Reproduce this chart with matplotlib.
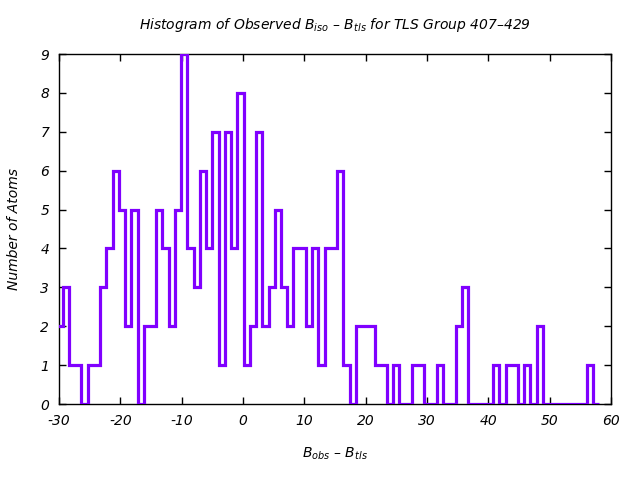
import matplotlib
matplotlib.use("Agg")
import matplotlib.pyplot as plt
import numpy as np

# Histogram data (counts per bin)
bin_start = -30.42
bin_width = 1.017
counts = [2, 3, 1, 1, 0, 1, 1, 3, 4, 6,
          5, 2, 5, 0, 2, 2, 5, 4, 2, 5,
          9, 4, 3, 6, 4, 7, 1, 7, 4, 8,
          1, 2, 7, 2, 3, 5, 3, 2, 4, 4,
          2, 4, 1, 4, 4, 6, 1, 0, 2, 2,
          2, 1, 1, 0, 1, 0, 0, 1, 1, 0,
          0, 1, 0, 0, 2, 3, 0, 0, 0, 0,
          1, 0, 1, 1, 0, 1, 0, 2, 0, 0,
          0, 0, 0, 0, 0, 1, 0]
x_ticks = [-30, -20, -10, 0, 10, 20, 30, 40, 50, 60]
y_ticks = [0, 1, 2, 3, 4, 5, 6, 7, 8, 9]

plt.rcParams['font.family'] = ['DejaVu Sans']
plt.rcParams['mathtext.fontset'] = 'dejavusans'
plt.rcParams['mathtext.default'] = 'it'
plt.rcParams['axes.unicode_minus'] = False

fig = plt.figure(figsize=(6.4, 4.8), dpi=100)
ax = fig.add_axes([59/640, 76/480, 552/640, 350/480])

edges = bin_start + bin_width * np.arange(len(counts) + 1)
ax.stairs(counts, edges, baseline=0, color='#8000ff', linewidth=2.3, zorder=3)

ax.set_xlim(-30, 60)
ax.set_ylim(0, 9)
ax.set_xticks(x_ticks)
ax.set_yticks(y_ticks)
ax.tick_params(direction='in', top=True, right=True, length=5, width=1,
               labelsize=10, pad=7)
for lab in ax.get_xticklabels() + ax.get_yticklabels():
    lab.set_fontstyle('italic')
for s in ax.spines.values():
    s.set_linewidth(1)
    s.set_zorder(2)

ax.set_title(r"Histogram of Observed B$_{iso}$ – B$_{tls}$ for TLS Group 407–429",
             fontsize=10, style='italic', pad=18)
ax.set_xlabel(r"B$_{obs}$ – B$_{tls}$", fontsize=10, style='italic', labelpad=13)
ax.set_ylabel("Number of Atoms", fontsize=10, style='italic', labelpad=14)

fig.savefig("out.png", dpi=100)
